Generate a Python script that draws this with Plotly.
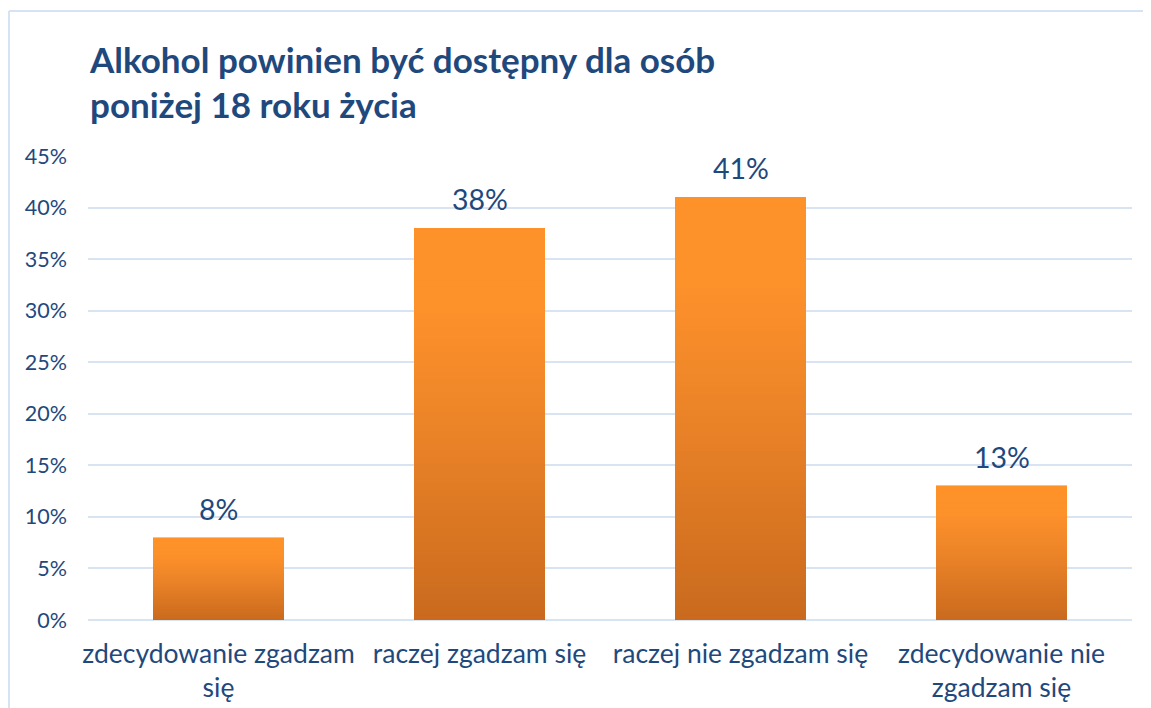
import plotly.graph_objects as go

categories = ["zdecydowanie zgadzam<br>się", "raczej zgadzam się", "raczej nie zgadzam się", "zdecydowanie nie<br>zgadzam się"]
values = [0.08, 0.38, 0.41, 0.13]
value_labels = ["8%", "38%", "41%", "13%"]
tick_vals = [0, 0.05, 0.10, 0.15, 0.20, 0.25, 0.30, 0.35, 0.40, 0.45]
tick_text = ["0%", "5%", "10%", "15%", "20%", "25%", "30%", "35%", "40%", "45%"]
title_text = "Alkohol powinien być dostępny dla osób<br>poniżej 18 roku życia"

TEXT = "#1f497d"
GRID = "#d9e4f3"
BORDER = "#d5e3f5"
FONT = "Lato, 'Open Sans', sans-serif"

W, H = 1135, 700  # page body has an 8px margin

# gradient colour stops (bottom -> top)
stops = [(0.0, (201, 106, 30)), (0.5, (236, 132, 40)), (0.8, (253, 145, 42)), (1.0, (254, 146, 42))]

def grad(t):
    for (t0, c0), (t1, c1) in zip(stops[:-1], stops[1:]):
        if t <= t1:
            f = (t - t0) / (t1 - t0) if t1 > t0 else 0
            return "rgb(%d,%d,%d)" % tuple(round(a + (b - a) * f) for a, b in zip(c0, c1))
    return "rgb(%d,%d,%d)" % stops[-1][1]

N = 60
fig = go.Figure()
for i in range(N):
    col = grad((i + 0.5) / N)
    fig.add_trace(go.Bar(
        x=categories,
        y=[v / N for v in values],
        marker=dict(color=col, line=dict(color=col, width=0.6)),
        width=0.5,
        showlegend=False,
        hoverinfo="skip",
    ))

for c, v, lab in zip(categories, values, value_labels):
    fig.add_annotation(x=c, y=v, text=lab, showarrow=False, yanchor="bottom",
                       yshift=10, font=dict(size=28.5, color=TEXT, family=FONT))

# outer chart border (left and top edges visible)
fig.add_shape(type="line", xref="paper", yref="paper",
              x0=-0.0757, x1=-0.0757, y0=-0.5, y1=1.3125,
              line=dict(color=BORDER, width=2), layer="below")
fig.add_shape(type="line", xref="paper", yref="paper",
              x0=-0.0757, x1=1.3, y0=1.3125, y1=1.3125,
              line=dict(color=BORDER, width=2), layer="below")

fig.update_layout(
    width=W, height=H,
    barmode="stack",
    bargap=0.5,
    plot_bgcolor="white", paper_bgcolor="white",
    margin=dict(l=80, r=11, t=148, b=88),
    font=dict(family=FONT, color=TEXT),
    title=dict(text="<b>" + title_text + "</b>", x=82 / W, xanchor="left",
               y=1 - 64.5 / H, yanchor="middle", xref="container", yref="container",
               font=dict(size=35, color=TEXT, family=FONT)),
    xaxis=dict(showgrid=False, showline=False, ticks="", tickfont=dict(size=26.5, color=TEXT),
               ticklabelstandoff=15, automargin=False, tickangle=0),
    yaxis=dict(range=[0, 0.45], tickvals=tick_vals, ticktext=tick_text,
               showgrid=True, gridcolor=GRID, gridwidth=2,
               zeroline=True, zerolinecolor=GRID, zerolinewidth=2,
               showline=False, ticks="", tickfont=dict(size=21.5, color=TEXT),
               ticklabelstandoff=20, automargin=False),
)

fig.write_html("out.html")
